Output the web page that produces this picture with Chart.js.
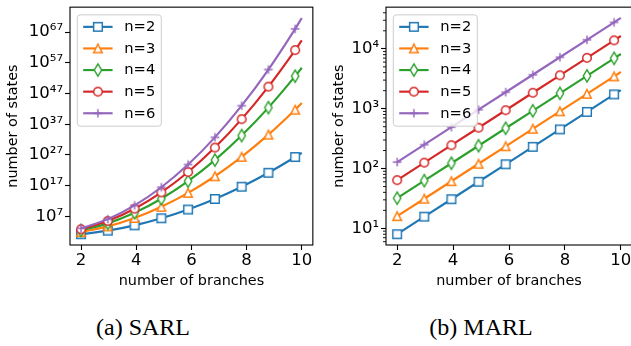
<!DOCTYPE html>
<html><head><meta charset="utf-8">
<script src="https://cdn.jsdelivr.net/npm/chart.js@4.4.1/dist/chart.umd.min.js"></script>
<style>
html,body{margin:0;padding:0;background:#fff;}
body{width:631px;height:346px;overflow:hidden;position:relative;}
canvas{position:absolute;top:0;}
#c1{left:0}
#c2{left:320px}
.cap{position:absolute;font-family:'Liberation Serif','Times New Roman',serif;font-size:24px;color:#000;white-space:nowrap;transform:translateX(-50%);top:315px;line-height:1;}
</style></head><body>
<canvas id="c1" width="320" height="300"></canvas>
<canvas id="c2" width="320" height="300"></canvas>
<div class="cap" style="left:143px">(a) SARL</div>
<div class="cap" style="left:481px">(b) MARL</div>
<script>
// ---- data ----
const BRANCHES = [2, 2.97, 3.94, 4.91, 5.88, 6.85, 7.82, 8.79, 9.76, 10];
const SERIES_LABELS = ['n=2', 'n=3', 'n=4', 'n=5', 'n=6'];

const SARL_N2 = [1.6e1, 2.31e2, 1.22e4, 2.39e6, 1.72e9, 4.57e12, 4.46e16, 1.60e21, 2.12e26, 4.95e27];
const SARL_N3 = [8.1e1, 5.56e3, 3.01e6, 1.29e10, 4.35e14, 1.16e20, 2.44e26, 4.06e33, 5.32e41, 7.86e43];
const SARL_N4 = [2.56e2, 5.32e4, 1.50e8, 5.73e12, 2.97e18, 2.08e25, 1.98e33, 2.56e42, 4.49e52, 2.45e55];
const SARL_N5 = [6.25e2, 3.07e5, 3.10e9, 6.48e14, 2.79e21, 2.48e29, 4.54e38, 1.72e49, 1.34e61, 2.02e64];
const SARL_N6 = [1.30e3, 1.28e6, 3.69e10, 3.08e16, 7.50e23, 5.30e32, 1.09e43, 6.49e54, 1.13e68, 3.89e71];

const MARL_N2 = [8, 15.7, 30.7, 60.1, 117.7, 230.5, 451, 884, 1731, 2048];
const MARL_N3 = [16, 31.3, 61.4, 120.2, 235.4, 461, 903, 1768, 3462, 4096];
const MARL_N4 = [32, 62.7, 122.7, 240.4, 470.8, 922, 1806, 3536, 6925, 8192];
const MARL_N5 = [64, 125.3, 245.5, 480.7, 941.5, 1844, 3611, 7072, 13850, 16384];
const MARL_N6 = [128, 250.7, 491, 961.4, 1883, 3687, 7222, 14144, 27700, 32768];

const X_TICKS = [2, 4, 6, 8, 10];
const X_TICK_LABELS = ['2', '4', '6', '8', '10'];
const SARL_Y_TICKS = [1e7, 1e17, 1e27, 1e37, 1e47, 1e57, 1e67];
const SARL_Y_TICK_LABELS = ['10⁷', '10¹⁷', '10²⁷', '10³⁷', '10⁴⁷', '10⁵⁷', '10⁶⁷'];
const MARL_Y_TICKS = [1e1, 1e2, 1e3, 1e4];
const MARL_Y_TICK_LABELS = ['10¹', '10²', '10³', '10⁴'];
const MARL_Y_MINOR = [6, 7, 8, 9, 20, 30, 40, 50, 60, 70, 80, 90, 200, 300, 400, 500, 600, 700, 800, 900,
  2000, 3000, 4000, 5000, 6000, 7000, 8000, 9000, 20000, 30000, 40000];

const X_RANGE = [1.6, 10.4];
const SARL_Y_RANGE = [4.84e-3, 1.285e75];
const MARL_Y_RANGE = [5.28, 4.966e4];

// ---- styles ----
const COLORS = ['#1f77b4', '#ff7f0e', '#2ca02c', '#d62728', '#9467bd'];
const MARKERS = ['s', '^', 'd', 'o', '+'];
const MS = 8.64, MEW = 1.44, LW = 2.16;
const TICK_FS = 16.5, LABEL_FS = 14.4, LEG_FS = 14.7;
const FONT = 'DejaVu Sans';

function makeMarker(kind, color) {
  const S = 18, c = document.createElement('canvas');
  c.width = S; c.height = S;
  const g = c.getContext('2d'), h = S / 2, r = MS / 2;
  g.lineWidth = MEW; g.strokeStyle = color; g.fillStyle = '#fff'; g.lineJoin = 'miter';
  g.beginPath();
  if (kind === 's') g.rect(h - r, h - r, MS, MS);
  else if (kind === '^') { g.moveTo(h, h - r); g.lineTo(h - r, h + r); g.lineTo(h + r, h + r); g.closePath(); }
  else if (kind === 'd') { const dy = MS * Math.SQRT1_2, dx = 0.6 * dy; g.moveTo(h, h - dy); g.lineTo(h + dx, h); g.lineTo(h, h + dy); g.lineTo(h - dx, h); g.closePath(); }
  else if (kind === 'o') g.arc(h, h, r, 0, 2 * Math.PI);
  if (kind === '+') { g.moveTo(h - r, h); g.lineTo(h + r, h); g.moveTo(h, h - r); g.lineTo(h, h + r); g.stroke(); }
  else { g.fill(); g.stroke(); }
  return c;
}

function buildSets(seriesList, smooth) {
  return seriesList.map((vals, i) => ({
    label: SERIES_LABELS[i],
    data: BRANCHES.map((x, k) => ({ x: x, y: vals[k] })),
    borderColor: COLORS[i],
    backgroundColor: COLORS[i],
    borderWidth: LW,
    borderJoinStyle: 'round',
    pointStyle: makeMarker(MARKERS[i], COLORS[i]),
    pointRadius: BRANCHES.map((_, k) => k < BRANCHES.length - 1 ? 5 : 0),
    pointHoverRadius: BRANCHES.map((_, k) => k < BRANCHES.length - 1 ? 5 : 0),
    cubicInterpolationMode: smooth ? 'monotone' : 'default',
    tension: 0,
    order: seriesList.length - i,
    clip: 4
  }));
}

const framePlugin = {
  id: 'frame',
  afterDatasetsDraw(chart, args, opts) {
    const { ctx, chartArea: a } = chart;
    ctx.save();
    ctx.strokeStyle = '#000';
    ctx.lineWidth = 1.1;
    ctx.strokeRect(a.left, a.top, a.right - a.left, a.bottom - a.top);
    if (opts.minor) {
      const ys = chart.scales.y;
      ctx.lineWidth = 0.9;
      opts.minor.forEach(v => {
        const y = ys.getPixelForValue(v);
        if (y < a.top || y > a.bottom) return;
        ctx.beginPath(); ctx.moveTo(a.left - 3, y); ctx.lineTo(a.left, y); ctx.stroke();
      });
    }
    ctx.restore();
  }
};

const legendPlugin = {
  id: 'mplLegend',
  afterDraw(chart) {
    const { ctx, chartArea: a } = chart;
    const bx = a.left + 7.3, by = a.top + 7.7, bw = 84, bh = 111.3;
    ctx.save();
    ctx.beginPath();
    ctx.roundRect(bx, by, bw, bh, 3);
    ctx.fillStyle = 'rgba(255,255,255,0.8)';
    ctx.fill();
    ctx.strokeStyle = '#cccccc';
    ctx.lineWidth = 1;
    ctx.stroke();
    chart.data.datasets.forEach((d, i) => {
      const y = by + 12 + i * 21.6;
      ctx.beginPath();
      ctx.moveTo(bx + 5.9, y); ctx.lineTo(bx + 35.3, y);
      ctx.strokeStyle = d.borderColor; ctx.lineWidth = d.borderWidth; ctx.stroke();
      const m = d.pointStyle;
      ctx.drawImage(m, bx + 20.6 - m.width / 2, y - m.height / 2);
      ctx.fillStyle = '#000';
      ctx.font = LEG_FS + 'px "' + FONT + '"';
      ctx.textBaseline = 'middle';
      ctx.textAlign = 'left';
      ctx.fillText(d.label, bx + 47, y + 0.5);
    });
    ctx.restore();
  }
};

function makeChart(id, sets, yRange, yTicks, yLabels, yWidth, yTitlePad, padRight, minor) {
  const gridOpts = { drawOnChartArea: false, drawTicks: true, tickLength: 5, tickColor: '#000', tickWidth: 1.1 };
  return new Chart(document.getElementById(id), {
    type: 'line',
    data: { datasets: sets },
    options: {
      responsive: false,
      animation: false,
      devicePixelRatio: 1,
      events: [],
      layout: { padding: { top: 5, right: padRight, left: 0, bottom: 0 } },
      plugins: { legend: { display: false }, tooltip: { enabled: false }, frame: { minor: minor } },
      scales: {
        x: {
          type: 'linear', min: X_RANGE[0], max: X_RANGE[1],
          afterBuildTicks: s => { s.ticks = X_TICKS.map(v => ({ value: v })); },
          afterFit: s => { s.height = 55; s.paddingLeft = 0; s.paddingRight = 0; },
          ticks: { autoSkip: false, maxRotation: 0, color: '#000', padding: 1,
            font: { family: FONT, size: TICK_FS }, callback: (v, i) => X_TICK_LABELS[i] },
          grid: gridOpts,
          border: { display: false },
          title: { display: true, text: 'number of branches', color: '#000',
            font: { family: FONT, size: LABEL_FS }, padding: { top: 0, bottom: 9.7 } }
        },
        y: {
          type: 'logarithmic', min: yRange[0], max: yRange[1],
          afterBuildTicks: s => { s.ticks = yTicks.map(v => ({ value: v })); },
          afterFit: s => { s.width = yWidth; s.paddingTop = 0; s.paddingBottom = 0; },
          ticks: { autoSkip: false, color: '#000', padding: 2,
            font: { family: FONT, size: TICK_FS }, callback: (v, i) => yLabels[i] },
          grid: gridOpts,
          border: { display: false },
          title: { display: true, text: 'number of states', color: '#000',
            font: { family: FONT, size: LABEL_FS }, padding: { top: yTitlePad, bottom: 0 } }
        }
      }
    },
    plugins: [framePlugin, legendPlugin]
  });
}

makeChart('c1', buildSets([SARL_N2, SARL_N3, SARL_N4, SARL_N5, SARL_N6], true),
  SARL_Y_RANGE, SARL_Y_TICKS, SARL_Y_TICK_LABELS, 70, 4.7, 4, null);
makeChart('c2', buildSets([MARL_N2, MARL_N3, MARL_N4, MARL_N5, MARL_N6], false),
  MARL_Y_RANGE, MARL_Y_TICKS, MARL_Y_TICK_LABELS, 66, 10.2, 8, MARL_Y_MINOR);
</script>
</body></html>
